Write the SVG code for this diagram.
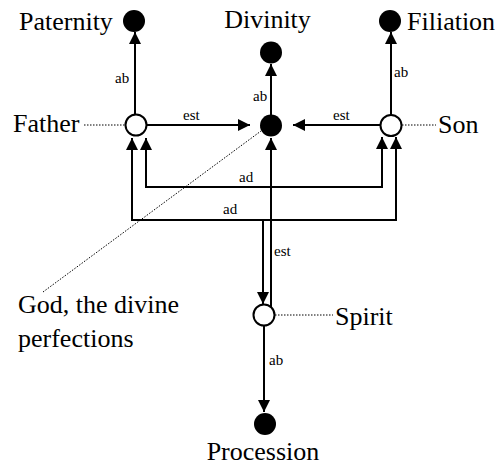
<svg xmlns="http://www.w3.org/2000/svg" width="499" height="466" viewBox="0 0 499 466">
<defs>
<marker id="ah" markerUnits="userSpaceOnUse" markerWidth="13" markerHeight="12" refX="12" refY="6" orient="auto-start-reverse">
<path d="M0,0 L12,6 L0,12 z" fill="#000"/>
</marker>
</defs>
<rect width="499" height="466" fill="#fff"/>
<g id="connectors" fill="none" stroke="#000" stroke-width="2">
<path d="M135,114 V32" marker-end="url(#ah)"/>
<path d="M271,115 V64" marker-end="url(#ah)"/>
<path d="M391,115 V32" marker-end="url(#ah)"/>
<path d="M147,125 H250" marker-end="url(#ah)"/>
<path d="M381,125 H293" marker-end="url(#ah)"/>
<path d="M271,307 V138" marker-end="url(#ah)"/>
<path d="M264,326 V412" marker-end="url(#ah)"/>
<path d="M146,138 V187 H382 V137" marker-start="url(#ah)" marker-end="url(#ah)"/>
<path d="M132,138 V220 H396 V137" marker-start="url(#ah)" marker-end="url(#ah)"/>
<path d="M263,220 V304" marker-end="url(#ah)"/>
<path stroke-width="1" stroke-dasharray="1.5 1.5" d="M84,125 H125 M402,125 H436 M275,315 H333 M43,292 L261,131"/>
</g>
<text x="115" y="83" style="font-family:'Liberation Serif',serif;font-size:15px">ab</text>
<text x="253" y="101" style="font-family:'Liberation Serif',serif;font-size:15px">ab</text>
<text x="394" y="77" style="font-family:'Liberation Serif',serif;font-size:15px">ab</text>
<text x="183" y="120" style="font-family:'Liberation Serif',serif;font-size:15px">est</text>
<text x="333" y="120" style="font-family:'Liberation Serif',serif;font-size:15px">est</text>
<text x="239" y="182" style="font-family:'Liberation Serif',serif;font-size:15px">ad</text>
<text x="223" y="214" style="font-family:'Liberation Serif',serif;font-size:15px">ad</text>
<text x="274" y="256" style="font-family:'Liberation Serif',serif;font-size:15px">est</text>
<text x="269" y="365" style="font-family:'Liberation Serif',serif;font-size:15px">ab</text>
<g id="paternity"><circle cx="134" cy="21" r="11" fill="#000"/><text x="19" y="30" style="font-family:'Liberation Serif',serif;font-size:26px">Paternity</text></g>
<g id="divinity"><circle cx="271" cy="52.5" r="11" fill="#000"/><text x="267.5" y="28" text-anchor="middle" style="font-family:'Liberation Serif',serif;font-size:26px">Divinity</text></g>
<g id="filiation"><circle cx="390" cy="21" r="11" fill="#000"/><text x="407" y="30" style="font-family:'Liberation Serif',serif;font-size:26px">Filiation</text></g>
<g id="father"><circle cx="136" cy="125" r="10.5" fill="#fff" stroke="#000" stroke-width="2"/><text x="13" y="132" style="font-family:'Liberation Serif',serif;font-size:26px">Father</text></g>
<g id="god"><circle cx="271" cy="125.5" r="11" fill="#000"/><text x="18" y="313" style="font-family:'Liberation Serif',serif;font-size:26px">God, the divine</text><text x="18" y="347" style="font-family:'Liberation Serif',serif;font-size:26px">perfections</text></g>
<g id="son"><circle cx="391" cy="125.5" r="10.5" fill="#fff" stroke="#000" stroke-width="2"/><text x="438" y="133" style="font-family:'Liberation Serif',serif;font-size:26px">Son</text></g>
<g id="spirit"><circle cx="264" cy="315" r="10.5" fill="#fff" stroke="#000" stroke-width="2"/><text x="335" y="325" style="font-family:'Liberation Serif',serif;font-size:26px">Spirit</text></g>
<g id="procession"><circle cx="265" cy="424" r="11" fill="#000"/><text x="263" y="460" text-anchor="middle" style="font-family:'Liberation Serif',serif;font-size:26px">Procession</text></g>
</svg>
